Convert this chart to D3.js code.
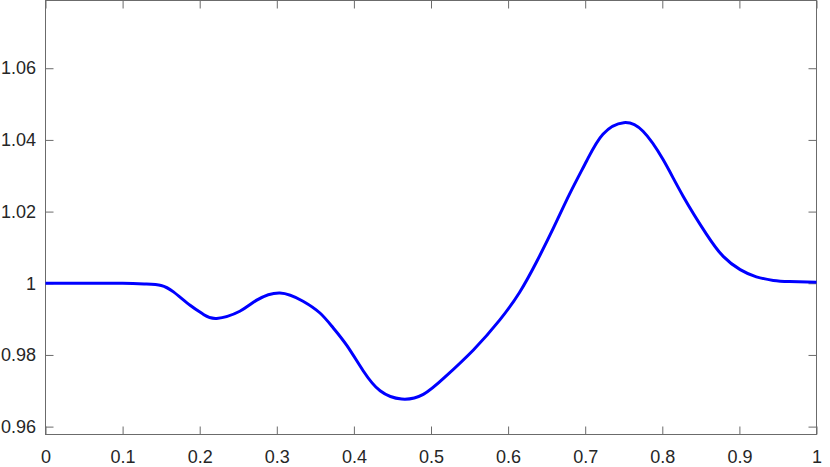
<!DOCTYPE html>
<html>
<head>
<meta charset="utf-8">
<script src="https://cdn.jsdelivr.net/npm/d3@7"></script>
<style>
  html, body { margin: 0; padding: 0; background: #fff; }
  svg { display: block; }
</style>
</head>
<body>
<svg id="chart" width="830" height="467"></svg>
<script>
// values
const xValues = [0, 0.05, 0.1, 0.13, 0.15, 0.166, 0.188, 0.205, 0.222, 0.252, 0.274, 0.304,
  0.334, 0.356, 0.373, 0.391, 0.412, 0.434, 0.462, 0.49, 0.518, 0.555, 0.589, 0.615, 0.637,
  0.659, 0.68, 0.702, 0.723, 0.75, 0.775, 0.801, 0.827, 0.857, 0.879, 0.901, 0.922, 0.944, 0.965, 1.0];
const yValues = [1, 1, 1, 0.9998, 0.9994, 0.9976, 0.9938, 0.9913, 0.9902, 0.9922, 0.9953, 0.9973,
  0.995, 0.9917, 0.9876, 0.9826, 0.9756, 0.97, 0.9677, 0.969, 0.9738, 0.9814, 0.9897, 0.9975, 1.006,
  1.0155, 1.025, 1.0342, 1.0416, 1.0448, 1.0424, 1.0345, 1.0243, 1.0138, 1.0075, 1.0038, 1.0018,
  1.0008, 1.0005, 1.0003];
const xTicks = [0, 0.1, 0.2, 0.3, 0.4, 0.5, 0.6, 0.7, 0.8, 0.9, 1];
const yTicks = [0.96, 0.98, 1, 1.02, 1.04, 1.06];

const box = { left: 45.5, right: 816.5, top: 0.5, bottom: 434.5 };
const axisColor = "#6b6b6b";
const textColor = "#262626";
const tickLen = 8;

const svg = d3.select("#chart");
const x = d3.scaleLinear().domain([0, 1]).range([box.left, box.right]);
const y = d3.scaleLinear().domain([0.9578, 1.0789]).range([box.bottom, box.top]);

const fmt = d => String(+d.toFixed(2));

// four axes, labels only on bottom and left
const gBottom = svg.append("g")
    .attr("transform", `translate(0,${box.bottom})`)
    .call(d3.axisBottom(x).tickValues(xTicks).tickFormat(fmt).tickSize(-tickLen).tickPadding(16));
const gTop = svg.append("g")
    .attr("transform", `translate(0,${box.top})`)
    .call(d3.axisTop(x).tickValues(xTicks).tickFormat("").tickSize(-tickLen));
const gLeft = svg.append("g")
    .attr("transform", `translate(${box.left},0)`)
    .call(d3.axisLeft(y).tickValues(yTicks).tickFormat(fmt).tickSize(-tickLen).tickPadding(9.5));
const gRight = svg.append("g")
    .attr("transform", `translate(${box.right},0)`)
    .call(d3.axisRight(y).tickValues(yTicks).tickFormat("").tickSize(-tickLen));

[gBottom, gTop, gLeft, gRight].forEach(g => {
    g.select(".domain").remove();
    g.selectAll(".tick line").attr("stroke", axisColor).attr("stroke-width", 1);
    g.selectAll(".tick text")
        .attr("fill", textColor)
        .attr("font-family", "'Liberation Sans', Arial, Helvetica, sans-serif")
        .attr("font-size", "18px");
});

// axes box
svg.append("rect")
    .attr("x", box.left).attr("y", box.top)
    .attr("width", box.right - box.left).attr("height", box.bottom - box.top)
    .attr("fill", "none")
    .attr("stroke", axisColor)
    .attr("stroke-width", 1);

// curve
const line = d3.line()
    .x((d, i) => x(xValues[i]))
    .y(d => y(d))
    .curve(d3.curveNatural);

svg.append("path")
    .attr("d", line(yValues))
    .attr("fill", "none")
    .attr("stroke", "#0000ff")
    .attr("stroke-width", 3)
    .attr("stroke-linejoin", "round");
</script>
</body>
</html>
